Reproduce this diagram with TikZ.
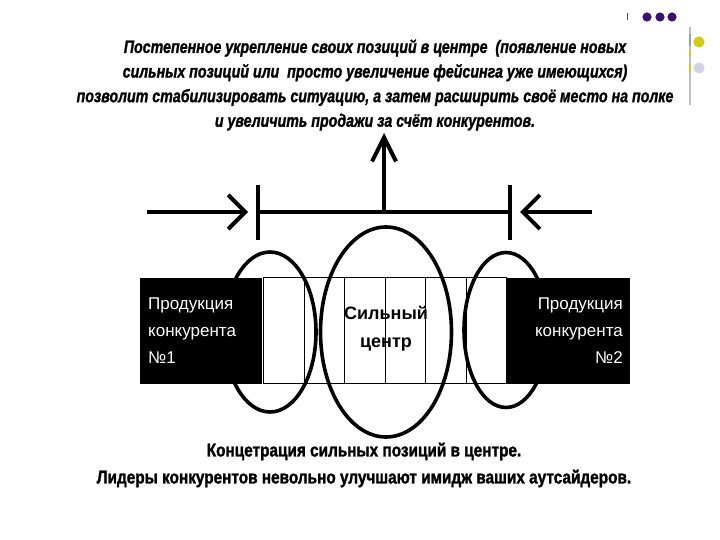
\documentclass[tikz,border=0pt]{standalone}
\usepackage{fontspec}
\setmainfont{Liberation Sans}
\newfontfamily\headfont[FakeStretch=0.79, FakeBold=1.2]{Liberation Sans}
\newfontfamily\capfont[FakeStretch=0.83, FakeBold=1.4]{Liberation Sans}
\usetikzlibrary{arrows.meta, positioning, shapes.geometric}
\definecolor{dotpurple}{HTML}{3A1070}
\definecolor{dotyellow}{HTML}{D2CC14}
\definecolor{dotgrey}{HTML}{D0D4E4}
\definecolor{railblue}{HTML}{8CA0C8}

\begin{document}
\begin{tikzpicture}[x=1pt, y=-1pt,
  bar/.style={line width=4.5pt},
  pushtip/.style={-{Straight Barb[length=17pt, width=34pt, line width=4pt]}},
  uptip/.style={-{Straight Barb[length=24pt, width=24pt, line width=4pt]}},
  ring/.style={ellipse, draw, line width=3.6pt, inner sep=0pt},
  compbox/.style={fill=black, minimum width=122pt, minimum height=106pt, inner sep=0pt, anchor=north west},
  cell/.style={draw, line width=1.2pt, minimum width=40.5pt, minimum height=106pt, inner sep=0pt, anchor=north west},
  comptext/.style={text=white, font=\fontsize{17}{27}\selectfont, inner sep=0pt}]
\useasboundingbox (0,0) rectangle (720,540);
% slide decoration
\draw[black!70, line width=1pt] (627,13) -- (627,20);
\foreach \x in {647,660,672}
  \fill[dotpurple] (\x,17) circle (4.6);
\draw[black!25, line width=1.2pt] (690,27) -- (690,105);
\draw[railblue, line width=1.2pt] (690,34) -- (690,46);
\draw[dotyellow, line width=1.2pt] (690,50) -- (690,56);
\draw[dotyellow, line width=1.2pt] (690,64) -- (690,72);
\fill[dotyellow] (699,42) circle (5.6);
\fill[dotgrey] (699,68) circle (5.6);
% heading
\node[font=\headfont\bfseries\itshape\fontsize{18}{24.6}\selectfont, align=center, inner sep=0pt]
  (heading) at (375,85) {Постепенное укрепление своих позиций в центре \ (появление новых\\
  сильных позиций или \ просто увеличение фейсинга уже имеющихся)\\
  позволит стабилизировать ситуацию, а затем расширить своё место на полке\\
  и увеличить продажи за счёт конкурентов.};
% shelf
\node[compbox] (comp1) at (140,278) {};
\node[compbox, minimum width=124pt] (comp2) at (506,278) {};
\foreach \i in {0,...,5}
  \node[cell] (cell\i) at (263+40.5*\i,277) {};
% circles
\node[ring, minimum width=92pt, minimum height=160pt] (ringL) at (270,332) {};
\node[ring, minimum width=131pt, minimum height=210pt] (ringC) at (386,332) {};
\node[ring, minimum width=84pt, minimum height=155pt] (ringR) at (506,330) {};
% labels over the circles
\node[comptext, align=left, anchor=west] (comp1 label) at (148,331) {Продукция\\конкурента\\№1};
\node[comptext, align=right, anchor=east] (comp2 label) at (623,331) {Продукция\\конкурента\\№2};
\node[font=\bfseries\fontsize{18}{28}\selectfont, align=center, inner sep=0pt]
  (strong) at (386,329) {Сильный\\центр};
% pressure arrows
\coordinate (tickL top) at (258,185);
\coordinate (tickL bot) at (258,240);
\coordinate (tickR top) at (510,185);
\coordinate (tickR bot) at (510,240);
\coordinate (tickL) at (258,212);
\coordinate (tickR) at (510,212);
\coordinate (mid) at (384,212);
\coordinate (pushL) at (147,212);
\coordinate (pushL tip) at (248,212);
\coordinate (pushR) at (592,212);
\coordinate (pushR tip) at (520,212);
\coordinate (up tip) at (384,133);
\draw[bar] (tickL top) -- (tickL bot);
\draw[bar] (tickR top) -- (tickR bot);
\draw[bar] (tickL) -- (tickR);
\draw[bar, pushtip] (pushL) -- (pushL tip);
\draw[bar, pushtip] (pushR) -- (pushR tip);
\draw[bar, uptip] (mid) -- (up tip);
% caption
\node[font=\capfont\bfseries\fontsize{18.5}{27}\selectfont, align=center, inner sep=0pt]
  (caption) at (364,465) {Концетрация сильных позиций в центре.\\
  Лидеры конкурентов невольно улучшают имидж ваших аутсайдеров.};
\end{tikzpicture}
\end{document}
